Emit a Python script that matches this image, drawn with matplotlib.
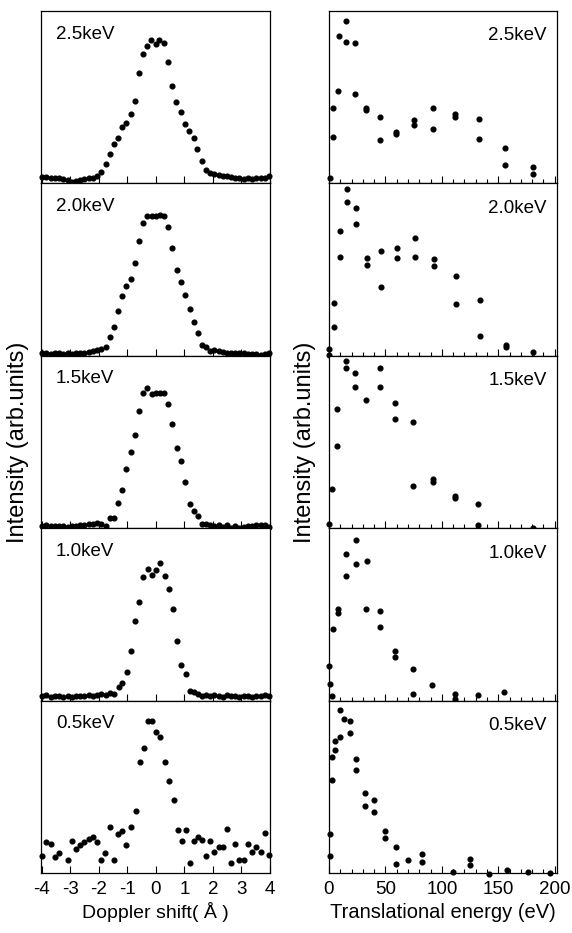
#!/usr/bin/env python3
import matplotlib
matplotlib.use("Agg")
import matplotlib.pyplot as plt
from matplotlib.ticker import MultipleLocator

# Doppler profiles (left column), intensity in arbitrary units (0-100 per panel)
dop_x_25 = [-3.99, -3.84, -3.69, -3.54, -3.39, -3.25, -3.10, -2.95, -2.80, -2.66, -2.51, -2.36, -2.21, -2.07,
            -1.92, -1.76, -1.62, -1.47, -1.33, -1.20, -1.04, -0.88, -0.74, -0.60, -0.45, -0.31, -0.19, -0.01,
            0.12, 0.28, 0.44, 0.58, 0.71, 0.87, 1.02, 1.16, 1.32, 1.45, 1.61, 1.75, 1.91,
            2.05, 2.20, 2.34, 2.49, 2.64, 2.79, 2.93, 3.08, 3.22, 3.38, 3.52, 3.67, 3.81, 3.96]
dop_y_25 = [3.5, 3.5, 3.0, 3.0, 2.9, 2.5, 2.0, 1.0, 1.6, 2.0, 2.3, 2.9, 3.3, 4.5,
            6.4, 11.1, 17.2, 23.0, 26.4, 32.8, 35.2, 40.0, 47.9, 64.3, 75.2, 79.7, 83.0, 81.0,
            83.0, 81.4, 70.7, 56.3, 47.3, 41.4, 34.2, 30.3, 26.4, 19.9, 13.1, 7.8, 5.9,
            5.3, 4.9, 4.5, 4.1, 3.9, 3.3, 2.9, 2.7, 2.9, 2.7, 3.1, 3.3, 3.3, 4.1]

dop_x_20 = [-3.99, -3.84, -3.69, -3.54, -3.39, -3.25, -3.09, -2.95, -2.80, -2.66, -2.51, -2.36, -2.21, -2.07,
            -1.92, -1.76, -1.62, -1.47, -1.33, -1.19, -1.04, -0.89, -0.74, -0.60, -0.45, -0.31, -0.15, -0.01,
            0.14, 0.28, 0.44, 0.58, 0.73, 0.87, 1.02, 1.18, 1.32, 1.46, 1.61, 1.75, 1.91,
            2.05, 2.20, 2.34, 2.49, 2.64, 2.79, 2.93, 3.08, 3.22, 3.38, 3.52, 3.67, 3.81, 3.96]
dop_y_20 = [1.5, 1.8, 1.2, 1.6, 1.6, 1.2, 1.6, 1.0, 1.4, 1.9, 1.6, 2.3, 2.9, 3.5,
            3.9, 4.9, 11.1, 16.9, 25.7, 34.4, 40.5, 44.7, 54.1, 66.7, 76.8, 81.3, 81.3, 81.3,
            81.7, 81.1, 74.5, 62.6, 50.0, 42.8, 35.4, 27.2, 19.5, 13.2, 6.2, 5.3, 2.9,
            3.3, 2.9, 2.3, 1.9, 1.9, 1.6, 1.6, 1.4, 1.0, 1.0, 1.0, 0.6, 1.0, 1.9]

dop_x_15 = [-3.99, -3.84, -3.69, -3.54, -3.39, -3.25, -3.09, -2.95, -2.80, -2.66, -2.51, -2.36, -2.21, -2.07,
            -1.92, -1.76, -1.62, -1.48, -1.33, -1.19, -1.04, -0.89, -0.74, -0.60, -0.45, -0.31, -0.15, -0.01,
            0.14, 0.28, 0.44, 0.58, 0.73, 0.87, 1.02, 1.18, 1.32, 1.46, 1.61,
            1.75, 1.91, 2.05, 2.20, 2.34, 2.49, 2.64, 2.79, 2.93, 3.08, 3.22, 3.38, 3.52, 3.67, 3.81, 3.96]
dop_y_15 = [1.2, 1.6, 1.4, 1.0, 1.4, 1.0, 0.8, 1.4, 1.4, 1.8, 1.9, 2.3, 2.7, 3.3,
            2.3, 1.4, 6.2, 6.2, 14.4, 22.4, 34.1, 44.2, 54.0, 68.2, 78.4, 81.3, 77.8, 78.4,
            78.4, 78.4, 72.1, 60.2, 46.6, 38.8, 26.7, 14.0, 10.1, 7.0, 2.7,
            2.3, 1.9, 1.4, 1.8, 0.8, 1.9, 0.4, 1.4, 0.4, 0.8, 1.0, 1.2, 1.6, 1.9, 1.6, 0.8]

dop_x_10 = [-3.99, -3.84, -3.69, -3.54, -3.39, -3.25, -3.09, -2.95, -2.80, -2.66, -2.51, -2.36, -2.21, -2.07,
            -1.92, -1.76, -1.62, -1.48, -1.31, -1.18, -1.01, -0.88, -0.73, -0.58, -0.44, -0.28, -0.14, 0.01,
            0.16, 0.31, 0.45, 0.61, 0.75, 0.89, 1.05, 1.20,
            1.32, 1.46, 1.61, 1.75, 1.91, 2.05, 2.20, 2.34, 2.49, 2.64, 2.79, 2.93, 3.08, 3.22, 3.38, 3.52,
            3.67, 3.81, 3.96]
dop_y_10 = [2.5, 3.3, 2.3, 2.9, 2.9, 2.3, 2.5, 1.9, 2.9, 2.5, 2.9, 3.3, 2.9, 3.3,
            3.8, 3.3, 4.4, 3.8, 7.6, 10.1, 16.8, 28.7, 45.9, 57.0, 71.7, 76.5, 72.7, 75.5,
            80.0, 72.1, 65.0, 53.3, 34.6, 20.5, 15.3, 5.7,
            4.8, 3.8, 2.9, 3.3, 2.5, 3.3, 2.9, 1.9, 3.3, 2.5, 2.9, 1.9, 2.9, 2.5, 1.9, 2.9,
            2.5, 3.3, 2.5]

dop_x_05 = [-3.99, -3.84, -3.69, -3.54, -3.39, -3.09, -2.95, -2.80, -2.66, -2.51, -2.36, -2.21, -2.07,
            -1.92, -1.78, -1.62, -1.48, -1.33, -1.19, -1.04, -0.86, -0.71, -0.56, -0.42, -0.27, -0.13,
            0.01, 0.16, 0.32, 0.46, 0.64, 0.76, 0.91, 1.06, 1.20, 1.32, 1.46, 1.61, 1.75, 1.91,
            2.05, 2.20, 2.34, 2.49, 2.64, 2.79, 2.93, 3.08, 3.22, 3.38, 3.52, 3.67, 3.81, 3.96]
dop_y_05 = [9.6, 18.0, 17.0, 9.2, 11.7, 7.8, 18.5, 14.2, 16.2, 18.1, 19.7, 21.1, 18.1,
            7.8, 11.7, 26.9, 7.8, 22.6, 24.6, 16.2, 26.9, 35.7, 64.3, 72.7, 87.9, 87.9,
            81.9, 79.1, 64.3, 53.2, 42.5, 25.0, 18.5, 25.0, 5.8, 18.7, 21.1, 19.1, 9.7, 18.7,
            11.9, 14.8, 14.8, 25.3, 5.8, 16.8, 7.8, 7.8, 16.8, 12.3, 14.8, 12.3, 23.0, 10.3]

# Translational energy distributions (right column)
ene_x_25 = [0.9, 3.8, 3.8, 8.2, 8.8, 15.0, 15.0, 22.9, 22.9, 33.2, 33.2, 45.6, 45.6, 59.7, 59.7,
            75.0, 75.0, 92.0, 92.0, 111.8, 111.8, 133.0, 133.0, 155.9, 155.9, 181.0, 181.0]
ene_y_25 = [3.1, 27.0, 43.6, 53.7, 85.5, 94.2, 82.0, 81.3, 51.7, 44.0, 42.5, 38.6, 25.1, 30.1, 28.6,
            36.7, 34.0, 44.0, 31.5, 40.5, 38.6, 37.5, 25.7, 20.8, 10.8, 9.7, 5.4]

ene_x_20 = [0.0, 0.0, 4.4, 4.4, 9.4, 9.4, 15.6, 15.6, 24.1, 24.1, 33.8, 33.8, 46.5, 46.5,
            60.3, 60.3, 75.9, 75.9, 93.2, 93.2, 112.6, 112.6, 133.8, 133.8, 156.8, 156.8, 180.9, 180.9]
ene_y_20 = [3.9, 0.4, 16.5, 30.7, 57.2, 72.4, 96.9, 89.5, 86.0, 76.3, 56.8, 52.5, 60.7, 39.9,
            62.6, 56.8, 68.5, 57.4, 56.4, 52.1, 46.1, 29.8, 32.1, 11.3, 6.2, 5.3, 2.3, -1.5]

ene_x_15 = [0.0, 2.9, 7.4, 7.4, 14.7, 14.7, 22.9, 22.9, 32.9, 45.0, 45.0, 58.8, 58.8,
            74.4, 74.4, 92.0, 92.0, 111.2, 111.2, 132.4, 132.4, 180.3, 180.3]
ene_y_15 = [2.4, 22.5, 47.5, 69.0, 97.0, 92.7, 89.8, 81.8, 74.5, 92.7, 81.8, 72.5, 63.1,
            61.4, 24.5, 28.4, 27.0, 18.6, 17.3, 14.3, 1.6, 0.4, -0.8]

ene_x_10 = [0.0, 0.6, 2.9, 3.5, 8.2, 8.2, 14.7, 14.7, 23.5, 23.5, 32.9, 33.8, 45.0, 45.0,
            58.8, 58.8, 74.4, 74.4, 91.2, 111.2, 111.2, 132.4, 155.3]
ene_y_10 = [20.2, 9.6, 2.9, 41.7, 53.3, 50.6, 72.5, 85.2, 92.9, 79.4, 53.3, 80.8, 51.9, 42.9,
            28.5, 25.4, 18.3, 3.8, 9.2, 3.8, 1.0, 3.3, 4.8]

ene_x_05 = [0.6, 0.6, 2.7, 2.7, 5.0, 5.6, 9.5, 9.5, 13.3, 18.3, 18.3, 24.2, 24.2, 31.6, 31.6,
            39.9, 39.9, 49.3, 49.3, 59.1, 59.1, 70.0, 82.4, 82.4, 109.9, 125.3, 125.3,
            141.5, 157.8, 176.4, 196.2]
ene_y_05 = [9.8, 22.5, 53.7, 67.4, 71.3, 76.6, 79.1, 94.7, 89.3, 87.9, 81.4, 66.0, 59.6, 46.5, 39.1,
            42.6, 35.2, 24.4, 20.5, 15.2, 5.3, 7.4, 11.3, 6.3, 0.8, 8.4, 4.5,
            -0.6, 2.0, 0.8, 0.0]

energies = ["2.5keV", "2.0keV", "1.5keV", "1.0keV", "0.5keV"]
doppler = [(dop_x_25, dop_y_25), (dop_x_20, dop_y_20), (dop_x_15, dop_y_15),
           (dop_x_10, dop_y_10), (dop_x_05, dop_y_05)]
trans = [(ene_x_25, ene_y_25), (ene_x_20, ene_y_20), (ene_x_15, ene_y_15),
         (ene_x_10, ene_y_10), (ene_x_05, ene_y_05)]

plt.rcParams['font.family'] = ['Liberation Sans', 'DejaVu Sans']
plt.rcParams['axes.unicode_minus'] = False

W, H = 572, 933
fig = plt.figure(figsize=(W / 100, H / 100), dpi=100)

top_px, bot_px = 11, 873
panel_h = (bot_px - top_px) / 5.0


def make_axes(x0_px, w_px, row):
    y_top = top_px + row * panel_h
    return fig.add_axes([x0_px / W, 1 - (y_top + panel_h) / H, w_px / W, panel_h / H])


def style_axes(ax):
    for sp in ax.spines.values():
        sp.set_linewidth(0.9)
    ax.set_yticks([])
    ax.tick_params(axis='x', which='major', direction='in', length=5, width=0.8,
                   top=False, labelsize=13.5, pad=6)
    ax.tick_params(axis='x', which='minor', direction='in', length=3, width=0.8, top=False)
    ax.set_ylim(0, 100)


for row, label in enumerate(energies):
    # left: Doppler profile
    axl = make_axes(41, 229, row)
    x, y = doppler[row]
    axl.plot(x, y, 'o', color='black', markersize=3.4, clip_on=False, zorder=3)
    axl.set_xlim(-4.03, 4.0)
    axl.set_xticks(range(-4, 5))
    style_axes(axl)
    axl.text(0.066, 0.915, label, transform=axl.transAxes, ha='left', va='top', fontsize=13.5)

    # right: translational energy distribution
    axr = make_axes(329, 228, row)
    x, y = trans[row]
    axr.plot(x, y, 'o', color='black', markersize=3.4, clip_on=False, zorder=3)
    axr.set_xlim(0, 202)
    axr.set_xticks([0, 50, 100, 150, 200])
    axr.xaxis.set_minor_locator(MultipleLocator(10))
    style_axes(axr)
    axr.text(0.955, 0.905, label, transform=axr.transAxes, ha='right', va='top', fontsize=13.5)

    if row < 4:
        axl.tick_params(labelbottom=False)
        axr.tick_params(labelbottom=False)
    else:
        axl.set_xlabel("Doppler shift( Å )", fontsize=14, labelpad=3)
        axr.set_xlabel("Translational energy (eV)", fontsize=14.5, labelpad=3)

yc = 1 - (top_px + bot_px) / 2 / H
fig.text(18 / W, yc, "Intensity (arb.units)", rotation=90, ha='center', va='center', fontsize=17)
fig.text(305 / W, yc, "Intensity (arb.units)", rotation=90, ha='center', va='center', fontsize=17)

fig.savefig("out.png", dpi=100)
